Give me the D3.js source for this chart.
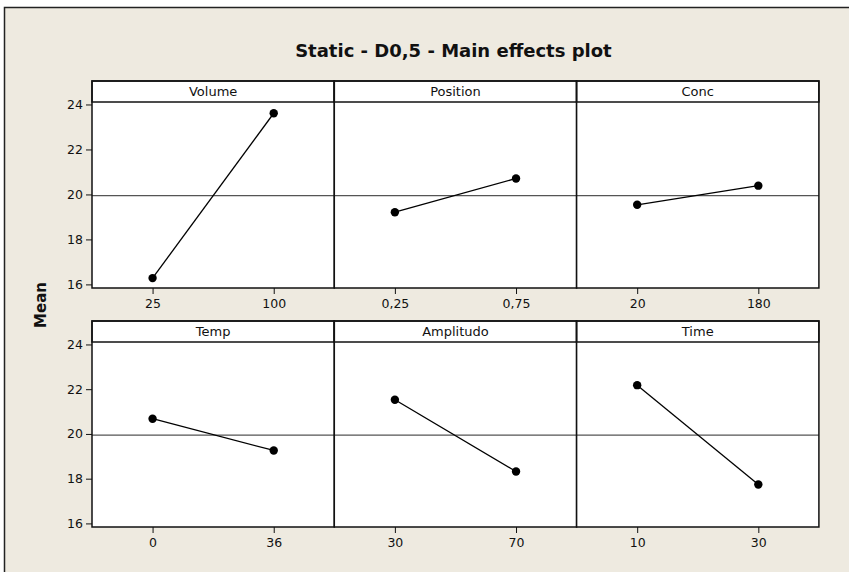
<!DOCTYPE html>
<html>
<head>
<meta charset="utf-8">
<script src="https://cdn.jsdelivr.net/npm/d3@7"></script>
<style>
  body { margin: 0; background: #fff; }
  text { font-family: "DejaVu Sans", Verdana, sans-serif; fill: #111; }
</style>
</head>
<body>
<script>
var factors = ["Volume", "Position", "Conc", "Temp", "Amplitudo", "Time"];
var levels = [["25", "100"], ["0,25", "0,75"], ["20", "180"], ["0", "36"], ["30", "70"], ["10", "30"]];
var means = [[16.28, 23.61], [19.21, 20.71], [19.54, 20.39], [20.68, 19.26], [21.53, 18.32], [22.18, 17.74]];
var yTicks = [16, 18, 20, 22, 24];
var grandMean = 19.95;

var width = 849, height = 572;
var left = 92, panelW = 242.3, stripH = 21;
var rows = [{top: 81, bottom: 288}, {top: 321, bottom: 527}];

var svg = d3.select("body").append("svg")
    .attr("width", width)
    .attr("height", height);

svg.append("rect")
    .attr("x", 4.5).attr("y", 7.5)
    .attr("width", width + 10).attr("height", height + 10)
    .attr("fill", "#eeeae0")
    .attr("stroke", "#222").attr("stroke-width", 1.5);

svg.append("text")
    .attr("x", left + panelW * 1.5 - 2)
    .attr("y", 57)
    .attr("text-anchor", "middle")
    .style("font-size", "18px")
    .style("font-weight", "bold")
    .text("Static - D0,5 - Main effects plot");

svg.append("text")
    .attr("transform", "translate(46,305) rotate(-90)")
    .attr("text-anchor", "middle")
    .style("font-size", "15px")
    .style("font-weight", "bold")
    .text("Mean");

rows.forEach(function(r, ri) {
  var y = d3.scaleLinear()
      .domain([15.84, 24.11])
      .range([r.bottom, r.top + stripH]);

  var g = svg.append("g");

  // y axis
  g.append("g")
      .attr("transform", "translate(" + left + ",0)")
      .call(d3.axisLeft(y).tickValues(yTicks).tickSize(6).tickPadding(3).tickSizeOuter(0))
      .call(function(a) {
        a.select(".domain").remove();
        a.selectAll("line").attr("stroke", "#111");
        a.selectAll("text").style("font-size", "12.5px").style("font-family", "DejaVu Sans");
      });

  for (var ci = 0; ci < 3; ci++) {
    var k = ri * 3 + ci;
    var x0 = left + ci * panelW;
    var x = d3.scalePoint()
        .domain(levels[k])
        .range([x0, x0 + panelW])
        .padding(0.5);

    var p = g.append("g");

    p.append("rect")
        .attr("x", x0).attr("y", r.top)
        .attr("width", panelW).attr("height", r.bottom - r.top)
        .attr("fill", "#fff");

    // reference line at grand mean
    p.append("line")
        .attr("x1", x0).attr("x2", x0 + panelW)
        .attr("y1", y(grandMean)).attr("y2", y(grandMean))
        .attr("stroke", "#555").attr("stroke-width", 1.2);

    var pts = levels[k].map(function(l, i) { return [l, means[k][i]]; });

    p.append("path")
        .datum(pts)
        .attr("fill", "none")
        .attr("stroke", "#000")
        .attr("stroke-width", 1.3)
        .attr("d", d3.line()
            .x(function(d) { return x(d[0]); })
            .y(function(d) { return y(d[1]); }));

    p.selectAll("circle")
        .data(pts)
      .enter().append("circle")
        .attr("cx", function(d) { return x(d[0]); })
        .attr("cy", function(d) { return y(d[1]); })
        .attr("r", 4.2)
        .attr("fill", "#000");

    // strip
    p.append("rect")
        .attr("x", x0).attr("y", r.top)
        .attr("width", panelW).attr("height", stripH)
        .attr("fill", "#fff")
        .attr("stroke", "#111").attr("stroke-width", 1.5);

    p.append("text")
        .attr("x", x0 + panelW / 2)
        .attr("y", r.top + 15)
        .attr("text-anchor", "middle")
        .style("font-size", "13px")
        .text(factors[k]);

    p.append("rect")
        .attr("x", x0).attr("y", r.top)
        .attr("width", panelW).attr("height", r.bottom - r.top)
        .attr("fill", "none")
        .attr("stroke", "#111").attr("stroke-width", 1.5);

    // x axis
    p.append("g")
        .attr("transform", "translate(0," + r.bottom + ")")
        .call(d3.axisBottom(x).tickSize(6).tickPadding(5).tickSizeOuter(0))
        .call(function(a) {
          a.select(".domain").remove();
          a.selectAll("line").attr("stroke", "#111");
          a.selectAll("text").style("font-size", "12.5px").style("font-family", "DejaVu Sans");
        });
  }
});
</script>
</body>
</html>
